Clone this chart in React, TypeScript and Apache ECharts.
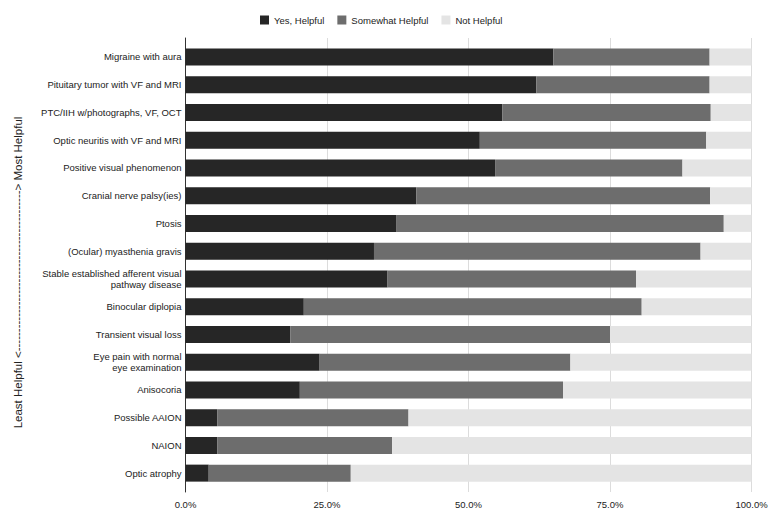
import React, { useEffect, useRef } from "react";
import * as echarts from "echarts";

const categories = [
  "Migraine with aura",
  "Pituitary tumor with VF and MRI",
  "PTC/IIH w/photographs, VF, OCT",
  "Optic neuritis with VF and MRI",
  "Positive visual phenomenon",
  "Cranial nerve palsy(ies)",
  "Ptosis",
  "(Ocular) myasthenia gravis",
  "Stable established afferent visual\npathway disease",
  "Binocular diplopia",
  "Transient visual loss",
  "Eye pain with normal\neye examination",
  "Anisocoria",
  "Possible AAION",
  "NAION",
  "Optic atrophy",
];

const yesHelpful = [65.0, 62.0, 56.0, 52.0, 54.7, 40.8, 37.3, 33.3, 35.7, 20.9, 18.5, 23.7, 20.2, 5.6, 5.6, 4.1];
const somewhatHelpful = [27.6, 30.6, 36.8, 40.0, 33.1, 51.9, 57.8, 57.7, 43.9, 59.7, 56.5, 44.3, 46.5, 33.8, 30.9, 25.1];
const notHelpful = [7.4, 7.4, 7.2, 8.0, 12.2, 7.3, 4.9, 9.0, 20.4, 19.4, 25.0, 32.0, 33.3, 60.6, 63.5, 70.8];

const seriesNames = ["Yes, Helpful", "Somewhat Helpful", "Not Helpful"];
const seriesColors = ["#262626", "#6d6d6d", "#e4e4e4"];
const xTicks = [0, 25, 50, 75, 100];

const FONT = "'Liberation Sans', Arial, Helvetica, sans-serif";

export default function App() {
  const ref = useRef<HTMLDivElement>(null);

  useEffect(() => {
    if (!ref.current) return;
    const chart = echarts.init(ref.current, undefined, { renderer: "svg" });
    const values = [yesHelpful, somewhatHelpful, notHelpful];
    const axisTitle = "Least Helpful <" + "-".repeat(42) + "> Most Helpful";

    chart.setOption({
      animation: false,
      backgroundColor: "#ffffff",
      textStyle: { fontFamily: FONT },
      legend: {
        data: seriesNames,
        left: 255,
        top: 10,
        itemWidth: 9,
        itemHeight: 9,
        itemGap: 13,
        icon: "rect",
        textStyle: { fontSize: 9.5, color: "#222", fontFamily: FONT },
      },
      grid: [
        { left: 185.5, right: 25.5, top: 43, bottom: 27 },
        { left: 185.5, right: 25.5, top: 38, bottom: 22 },
      ],
      xAxis: [
        { type: "value", gridIndex: 0, min: 0, max: 100, show: false },
        {
          type: "value",
          gridIndex: 1,
          min: xTicks[0],
          max: xTicks[xTicks.length - 1],
          interval: 25,
          axisLine: { show: false },
          axisTick: { show: false },
          splitLine: { show: true, lineStyle: { color: "#dcdcdc", width: 1 } },
          axisLabel: {
            fontSize: 9.5,
            color: "#222",
            margin: 7,
            fontFamily: FONT,
            formatter: (v: number) => v.toFixed(1) + "%",
          },
        },
      ],
      yAxis: [
        {
          type: "category",
          gridIndex: 0,
          inverse: true,
          data: categories,
          axisLine: { show: false },
          axisTick: { show: false },
          splitLine: { show: false },
          axisLabel: {
            fontSize: 9.5,
            color: "#222",
            margin: 4,
            lineHeight: 10.5,
            align: "right",
            fontFamily: FONT,
          },
        },
        {
          type: "value",
          gridIndex: 1,
          min: 0,
          max: 1,
          axisLine: { show: true, lineStyle: { color: "#333", width: 1 } },
          axisTick: { show: false },
          axisLabel: { show: false },
          splitLine: { show: false },
        },
      ],
      graphic: [
        {
          type: "text",
          x: 18,
          y: 272.5,
          rotation: Math.PI / 2,
          style: {
            text: axisTitle,
            fontSize: 11.5,
            fontFamily: FONT,
            fill: "#222",
            align: "center",
            verticalAlign: "middle",
          },
        },
      ],
      series: seriesNames.map((name, i) => ({
        name,
        type: "bar",
        stack: "total",
        xAxisIndex: 0,
        yAxisIndex: 0,
        barWidth: 17,
        itemStyle: { color: seriesColors[i] },
        emphasis: { disabled: true },
        data: values[i],
      })),
    });

    return () => chart.dispose();
  }, []);

  return (
    <div
      ref={ref}
      style={{ position: "fixed", left: 0, top: 0, width: 777, height: 514 }}
    />
  );
}
